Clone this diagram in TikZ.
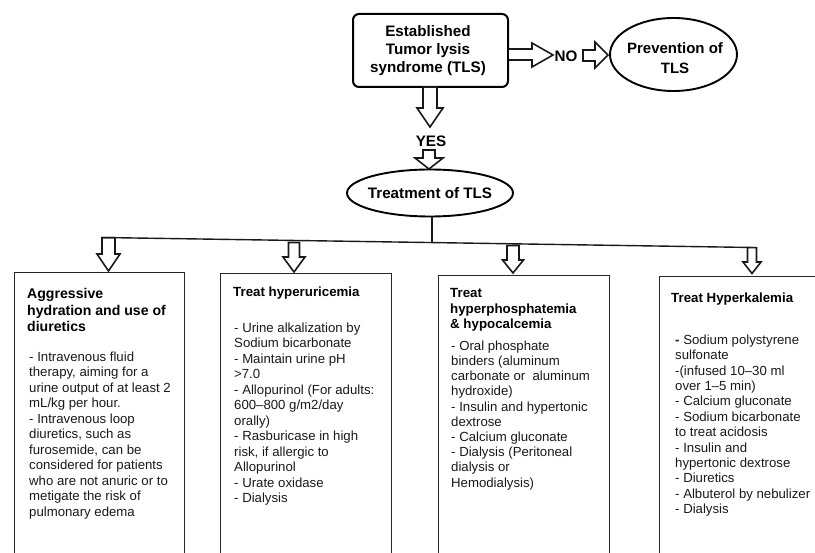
\documentclass[tikz,border=0pt]{standalone}
\usepackage{fontspec}
\setmainfont{Liberation Sans}
\usetikzlibrary{shapes.geometric}
\newcommand{\dnarrow}[6]{% x, shaft half, head half, ytop, yhead, ytip
  \draw[blockarrow] (#1-#2,#4) -- (#1-#2,#5) -- (#1-#3,#5) -- (#1,#6) -- (#1+#3,#5) -- (#1+#2,#5) -- (#1+#2,#4) -- cycle;}
\begin{document}
\begin{tikzpicture}[x=1pt,y=-1pt,
  blockarrow/.style={draw=black!90, line width=1.6pt, fill=white, line join=miter},
  boxstyle/.style={draw=black!85, line width=1.4pt, anchor=north west, inner sep=0pt},
  titletext/.style={anchor=north west, inner sep=0pt, align=left, font=\fontsize{13.3}{15.6}\selectfont\bfseries},
  bodytext/.style={anchor=north west, inner sep=0pt, align=left, font=\fontsize{13.2}{15.5}\selectfont, text=black!90},
  bigbold/.style={font=\fontsize{15.2}{18}\selectfont\bfseries, align=center, inner sep=0pt},
  ell/.style={ellipse, draw=black, line width=1.9pt, inner sep=0pt}]
\useasboundingbox (0,0) rectangle (815,553);
\clip (0,0) rectangle (815,553);

% top box
\node[draw=black, line width=2pt, rounded corners=6pt, minimum width=155, minimum height=73, inner sep=0pt] (est) at (430.5,50.5) {};
\node[bigbold] (esttext) at (428,51) {Established\\Tumor lysis\\syndrome (TLS)};

% NO branch
\draw[blockarrow] (est.east |- 0,49) -- (532,49) -- (532,43) -- (553,55) -- (532,67) -- (532,60) -- (est.east |- 0,60);
\node[bigbold] (no) at (566,56) {NO};
\draw[blockarrow] (583,50) -- (595,50) -- (595,42) -- (608,55) -- (595,68) -- (595,61) -- (583,61) -- cycle;
\node[ell, minimum width=127, minimum height=73] (prev) at (673.5,54.5) {};
\node[bigbold, font=\fontsize{15}{20}\selectfont\bfseries] (prevtext) at (675,58) {Prevention of\\TLS};

% YES branch
\dnarrow{430}{7}{13}{87}{108}{127}
\node[bigbold] (yes) at (431,141) {YES};
\dnarrow{429}{6}{14}{150}{158}{169}
\node[ell, minimum width=166, minimum height=47] (treat) at (430,193) {};
\node[bigbold] (treattext) at (430,193) {Treatment of TLS};

% bus line
\coordinate (busl) at (102,237.5);
\coordinate (busr) at (753,247.5);
\coordinate (busm) at (432,242.7);
\draw[line width=1.4pt, black!90] (busl) -- (busr);
\draw[line width=1.4pt, black!90] (treat.south -| busm) -- (busm);

% small arrows
\dnarrow{108.5}{6.5}{11.5}{237.8}{254}{271}
\dnarrow{294}{5.5}{11}{242.5}{257}{272}
\dnarrow{513}{6}{10.5}{245.5}{260}{273}
\dnarrow{752}{4.5}{9}{247.6}{262}{273.5}

% boxes
\node[boxstyle, minimum width=170, minimum height=320] (b1) at (14,272) {};
\node[boxstyle, minimum width=171, minimum height=320] (b2) at (220,273) {};
\node[boxstyle, minimum width=171, minimum height=320] (b3) at (437.5,275) {};
\node[boxstyle, minimum width=170, minimum height=320] (b4) at (659,276) {};

% box 1
\node[titletext, font=\fontsize{14.1}{16.6}\selectfont\bfseries] (t1) at (27,288) {Aggressive\\hydration and use of\\diuretics};
\node[bodytext] (d1) at (29,351.5) { - Intravenous fluid\\therapy, aiming for a\\urine output of at least 2\\mL/kg per hour.\\ - Intravenous loop\\diuretics, such as\\furosemide, can be\\considered for patients\\who are not anuric or to\\metigate the risk of\\pulmonary edema};

% box 2
\node[titletext] (t2) at (233,286.5) {Treat hyperuricemia};
\node[bodytext] (d2) at (234,322.5) {- Urine alkalization by\\Sodium bicarbonate\\- Maintain urine pH\\>7.0\\- Allopurinol (For adults:\\600--800 g/m2/day\\orally)\\- Rasburicase in high\\risk, if allergic to\\Allopurinol\\- Urate oxidase\\- Dialysis};

% box 3
\node[titletext, font=\fontsize{13.3}{15.5}\selectfont\bfseries] (t3) at (450,288.5) {Treat\\hyperphosphatemia\\\& hypocalcemia};
\node[bodytext, font=\fontsize{13.2}{15.2}\selectfont] (d3) at (451,340.5) {- Oral phosphate\\binders (aluminum\\carbonate or~ aluminum\\hydroxide)\\- Insulin and hypertonic\\dextrose\\- Calcium gluconate\\- Dialysis (Peritoneal\\dialysis or\\Hemodialysis)};

% box 4
\node[titletext] (t4) at (671,292.5) {Treat Hyperkalemia};
\node[bodytext, font=\fontsize{13.2}{15.4}\selectfont] (d4) at (675,334.5) {\textbf{-} Sodium polystyrene\\sulfonate\\-(infused 10--30 ml\\over 1--5 min)\\- Calcium gluconate\\- Sodium bicarbonate\\to treat acidosis\\- Insulin and\\hypertonic dextrose\\- Diuretics\\- Albuterol by nebulizer\\- Dialysis};
\end{tikzpicture}
\end{document}
